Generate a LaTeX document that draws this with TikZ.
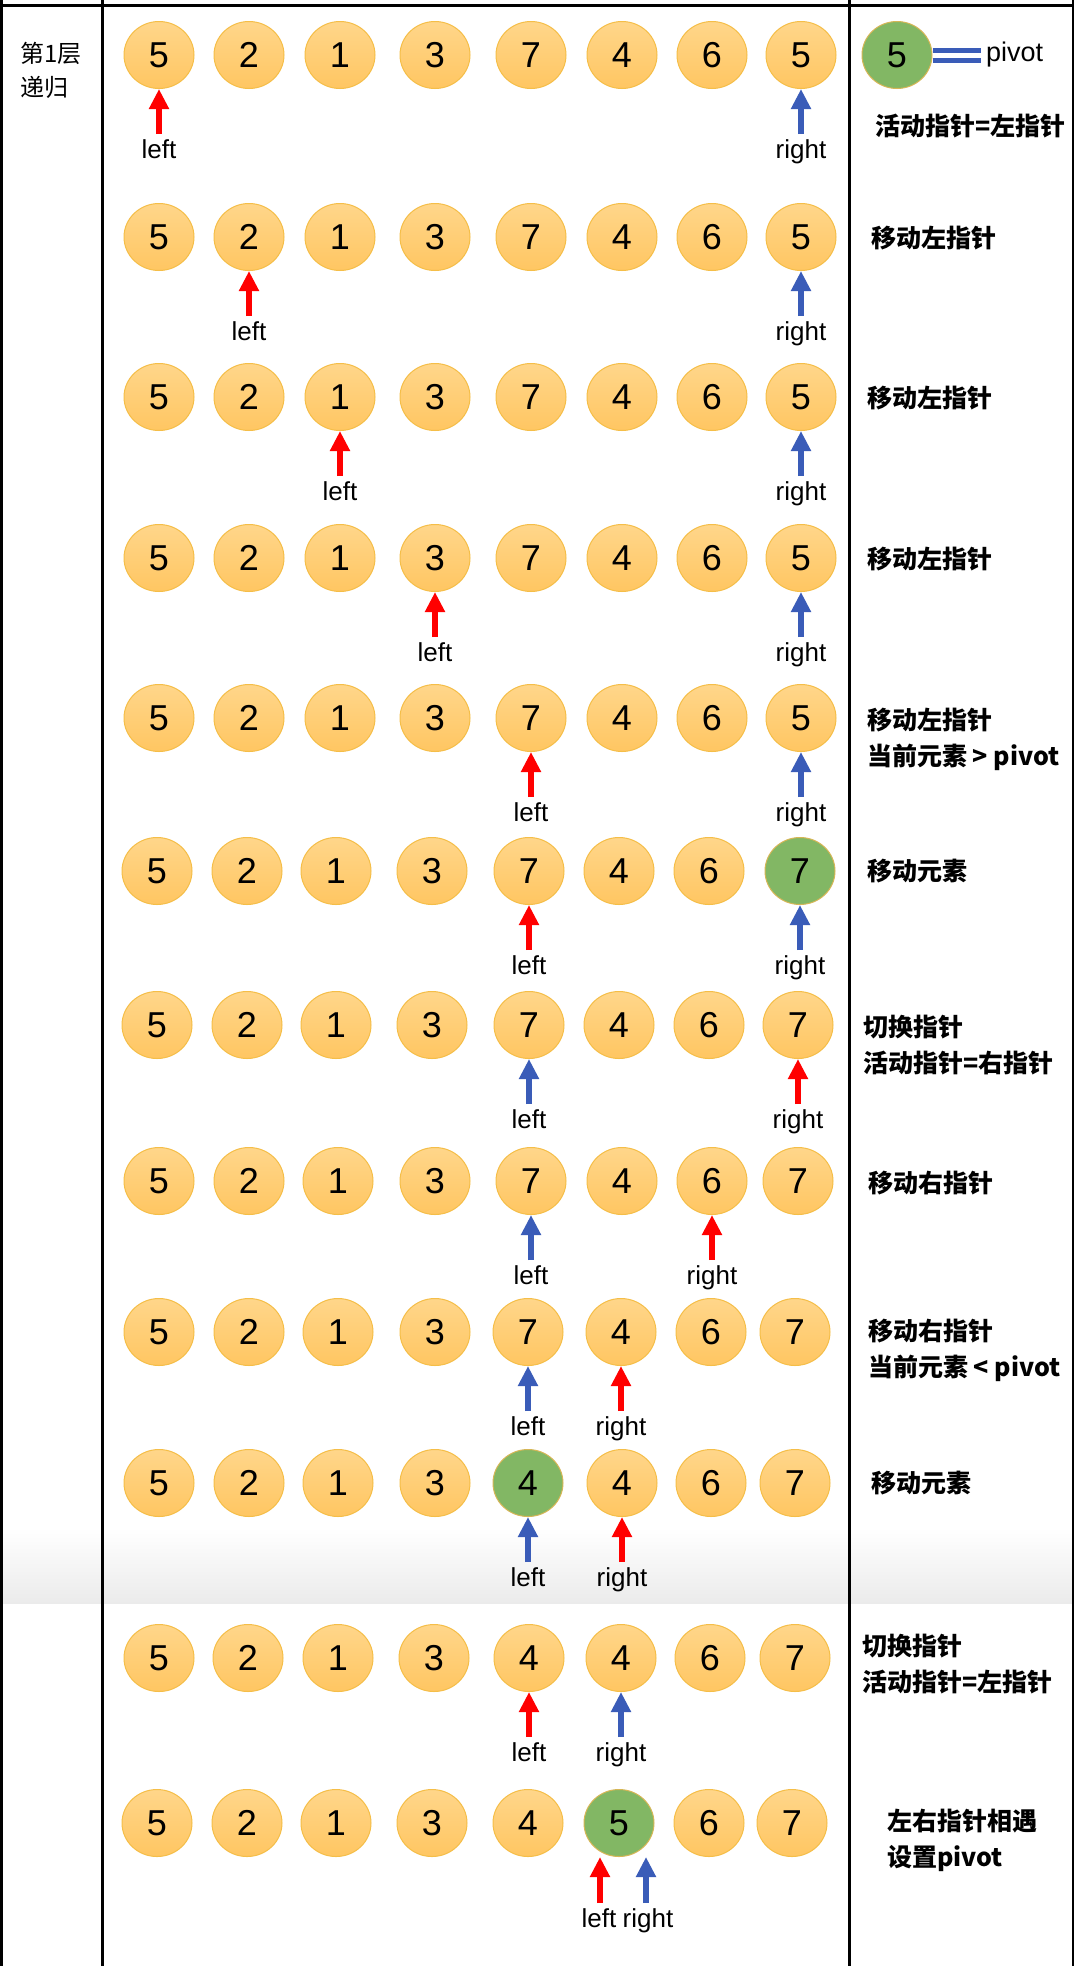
\documentclass[tikz,border=0pt]{standalone}
\usepackage{fontspec}
\setmainfont{Liberation Sans}
\newfontfamily\cjk{Noto Sans CJK SC}
\usetikzlibrary{shapes.geometric,arrows.meta}
\definecolor{otop}{RGB}{255,214,138}
\definecolor{obot}{RGB}{255,198,98}
\definecolor{oline}{RGB}{245,190,72}
\definecolor{gfill}{RGB}{130,183,100}
\definecolor{gline}{RGB}{214,182,86}
\definecolor{myred}{RGB}{255,0,0}
\definecolor{myblue}{RGB}{58,92,184}
\definecolor{bandgray}{RGB}{235,235,235}
\newcommand\arrrow[3]{%
  \foreach \x/\v/\s [count=\i from 0] in {#3} {\node[\s] (r#1c\i) at (\x,#2) {\v};}%
}
\newcommand\ptr[4]{%
  \node[lbl,anchor=north] (#4) at ([yshift=-50pt]#1.south) {#3};
  \draw[#2,shorten <=5pt] (#4.north) -- (#1.south);
}
\begin{document}
\begin{tikzpicture}[x=1pt,y=-1pt,
  cir/.style={ellipse,minimum width=70pt,minimum height=67pt,inner sep=0pt,
    top color=otop,bottom color=obot,draw=oline,line width=1pt,
    font=\fontsize{36}{40}\selectfont},
  gcir/.style={ellipse,minimum width=70pt,minimum height=67pt,inner sep=0pt,
    fill=gfill,draw=gline,line width=1pt,font=\fontsize{36}{40}\selectfont},
  lbl/.style={inner sep=0pt,font=\fontsize{26}{30}\selectfont},
  redarr/.style={draw=myred,line width=6pt,-{Triangle[width=19pt,length=20pt]}},
  bluearr/.style={draw=myblue,line width=6pt,-{Triangle[width=19pt,length=20pt]}},
  note/.style={inner sep=0pt,anchor=west,align=left,font=\cjk\bfseries\fontsize{25}{36}\selectfont},
  frame/.style={draw=black,line width=3pt}
]
\fill[white] (0,0) rectangle (1074,1966);
\useasboundingbox (0,0) rectangle (1074,1966);
\shade[top color=white,bottom color=bandgray] (0,1528) rectangle (1074,1603);
% frame lines
\draw[frame] (0,5) -- (1074,5);
\draw[frame] (1.5,0) -- (1.5,1966);
\draw[frame] (102,0) -- (102,1966);
\draw[frame] (849.5,0) -- (849.5,1966);
\draw[draw=black,line width=2pt] (1072.5,0) -- (1072.5,1966);
% left column
\node[inner sep=0pt,anchor=west,align=left,font=\cjk\fontsize{24}{34}\selectfont] (lvl) at (20,70) {第1层\\递归};
% rows
\arrrow{1}{55}{159/5/cir,249/2/cir,340/1/cir,435/3/cir,531/7/cir,622/4/cir,712/6/cir,801/5/cir}
\arrrow{2}{237}{159/5/cir,249/2/cir,340/1/cir,435/3/cir,531/7/cir,622/4/cir,712/6/cir,801/5/cir}
\arrrow{3}{397}{159/5/cir,249/2/cir,340/1/cir,435/3/cir,531/7/cir,622/4/cir,712/6/cir,801/5/cir}
\arrrow{4}{558}{159/5/cir,249/2/cir,340/1/cir,435/3/cir,531/7/cir,622/4/cir,712/6/cir,801/5/cir}
\arrrow{5}{718}{159/5/cir,249/2/cir,340/1/cir,435/3/cir,531/7/cir,622/4/cir,712/6/cir,801/5/cir}
\arrrow{6}{871}{157/5/cir,247/2/cir,336/1/cir,432/3/cir,529/7/cir,619/4/cir,709/6/cir,800/7/gcir}
\arrrow{7}{1025}{157/5/cir,247/2/cir,336/1/cir,432/3/cir,529/7/cir,619/4/cir,709/6/cir,798/7/cir}
\arrrow{8}{1181}{159/5/cir,249/2/cir,338/1/cir,435/3/cir,531/7/cir,622/4/cir,712/6/cir,798/7/cir}
\arrrow{9}{1332}{159/5/cir,249/2/cir,338/1/cir,435/3/cir,528/7/cir,621/4/cir,711/6/cir,795/7/cir}
\arrrow{10}{1483}{159/5/cir,249/2/cir,338/1/cir,435/3/cir,528/4/gcir,622/4/cir,711/6/cir,795/7/cir}
\arrrow{11}{1658}{159/5/cir,248/2/cir,338/1/cir,434/3/cir,529/4/cir,621/4/cir,710/6/cir,795/7/cir}
\arrrow{12}{1823}{157/5/cir,247/2/cir,336/1/cir,432/3/cir,528/4/cir,619/5/gcir,709/6/cir,792/7/cir}
% pointers
\ptr{r1c0}{redarr}{left}{l1}
\ptr{r1c7}{bluearr}{right}{rt1}
\ptr{r2c1}{redarr}{left}{l2}
\ptr{r2c7}{bluearr}{right}{rt2}
\ptr{r3c2}{redarr}{left}{l3}
\ptr{r3c7}{bluearr}{right}{rt3}
\ptr{r4c3}{redarr}{left}{l4}
\ptr{r4c7}{bluearr}{right}{rt4}
\ptr{r5c4}{redarr}{left}{l5}
\ptr{r5c7}{bluearr}{right}{rt5}
\ptr{r6c4}{redarr}{left}{l6}
\ptr{r6c7}{bluearr}{right}{rt6}
\ptr{r7c4}{bluearr}{left}{l7}
\ptr{r7c7}{redarr}{right}{rt7}
\ptr{r8c4}{bluearr}{left}{l8}
\ptr{r8c6}{redarr}{right}{rt8}
\ptr{r9c4}{bluearr}{left}{l9}
\ptr{r9c5}{redarr}{right}{rt9}
\ptr{r10c4}{bluearr}{left}{l10}
\ptr{r10c5}{redarr}{right}{rt10}
\ptr{r11c4}{redarr}{left}{l11}
\ptr{r11c5}{bluearr}{right}{rt11}
% last row pointers
\coordinate (a12l) at (600,1857);
\coordinate (a12r) at (646,1857);
\node[lbl,anchor=north] (l12) at (599,1908) {left};
\node[lbl,anchor=north] (rt12) at (648,1908) {right};
\draw[redarr,shorten <=5pt] (a12l |- l12.north) -- (a12l);
\draw[bluearr,shorten <=5pt] (a12r |- rt12.north) -- (a12r);
% pivot legend
\node[gcir] (g) at (897,55) {5};
\node[inner sep=0pt,anchor=west,font=\fontsize{27}{30}\selectfont] (pv) at (986,55) {pivot};
\draw[draw=myblue,line width=5pt,double=white,double distance=5pt] (g.east) -- ([xshift=-5pt]g.east -| pv.west);
% notes
\node[note] (n1) at (875,126) {活动指针=左指针};
\node[note] (n2) at (871,238) {移动左指针};
\node[note] (n3) at (867,398) {移动左指针};
\node[note] (n4) at (867,559) {移动左指针};
\node[note] (n5) at (867,739.5) {移动左指针\\当前元素 > pivot};
\node[note] (n6) at (867,871) {移动元素};
\node[note] (n7) at (863,1045) {切换指针\\活动指针=右指针};
\node[note] (n8) at (868,1183) {移动右指针};
\node[note] (n9) at (868,1350) {移动右指针\\当前元素 < pivot};
\node[note] (n10) at (871,1483) {移动元素};
\node[note] (n11) at (862,1664) {切换指针\\活动指针=左指针};
\node[note] (n12) at (887,1840) {左右指针相遇\\设置pivot};
\end{tikzpicture}
\end{document}
